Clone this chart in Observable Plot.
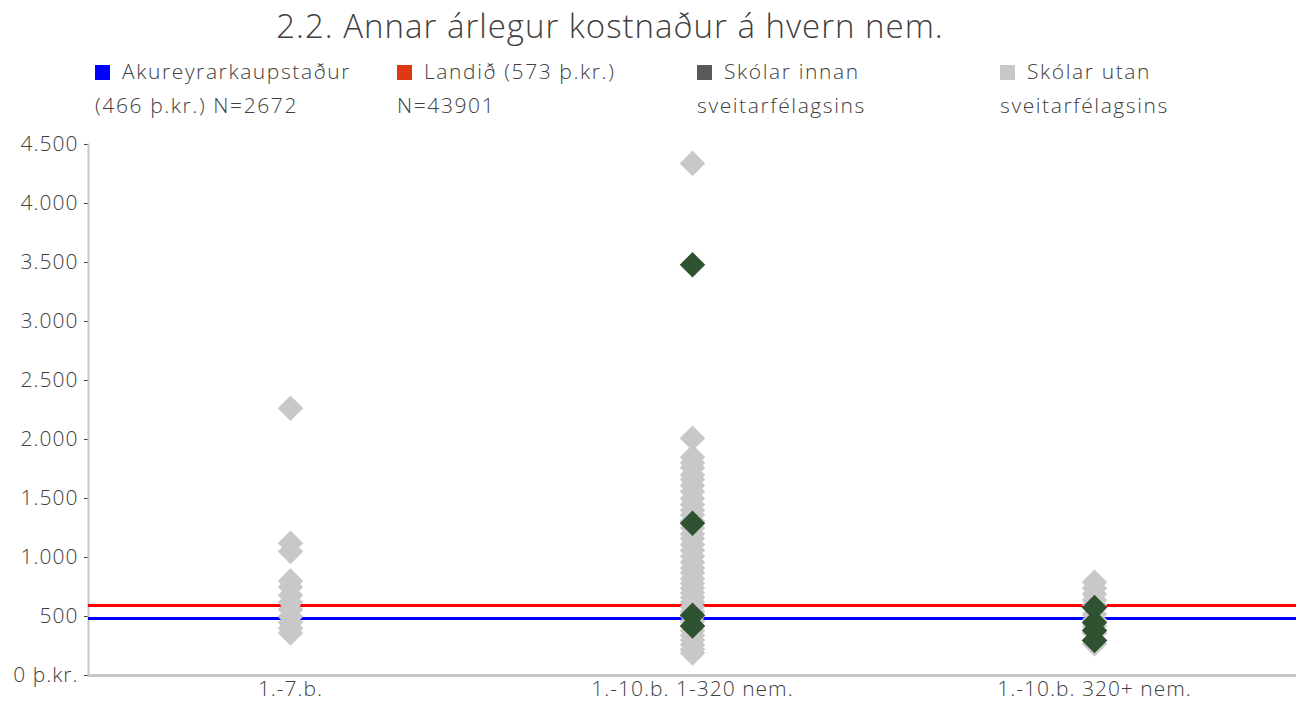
<!DOCTYPE html>
<html>
<head>
<meta charset="utf-8">
<script src="https://cdn.jsdelivr.net/npm/d3@7"></script>
<script src="https://cdn.jsdelivr.net/npm/@observablehq/plot@0.6"></script>
<style>
  body { margin: 0; background: #fff; font-family: "Open Sans", Lato, sans-serif; color: #404040; }
  #wrap { width: 1314px; height: 709px; position: relative; overflow: hidden; }
  #title { position: absolute; left: 0; width: 1220px; top: 3px; text-align: center; font-size: 33px; font-weight: 300; letter-spacing: 1px; }
  .leg { position: absolute; top: 54px; font-size: 21px; font-weight: 300; line-height: 34px; letter-spacing: 1.6px; white-space: nowrap; }
  .sw { display: inline-block; width: 15px; height: 15px; margin-right: 12px; vertical-align: -1px; }
  #chart { position: absolute; left: 0; top: 130px; }
  #chart text { letter-spacing: 1px; }
</style>
</head>
<body>
<div id="wrap">
  <div id="title">2.2. Annar árlegur kostnaður á hvern nem.</div>
  <div id="legend"></div>
  <div id="chart"></div>
</div>
<script>
// Categories (x axis)
const categories = ["1.-7.b.", "1.-10.b. 1-320 nem.", "1.-10.b. 320+ nem."];

// Schools outside the municipality (light grey), per category
const utan1 = [2265, 1120, 1050, 800, 750, 680, 620, 560, 500, 450, 400, 360];
const utan2 = [4340, 2010, 1850, 1800, 1760, 1700, 1660, 1610, 1560, 1500, 1450, 1400, 1360, 1310, 1250, 1200, 1160, 1110, 1060, 1010, 960, 910, 870, 820, 780, 740, 700, 660, 620, 580, 540, 500, 460, 420, 380, 340, 300, 260, 220, 190];
const utan3 = [790, 740, 690, 640, 600, 520, 470, 420, 360, 300, 270];

// Schools inside the municipality (dark green), per category
const innan1 = [];
const innan2 = [3480, 1290, 510, 420];
const innan3 = [576, 449, 381, 297];

// Reference lines
const akureyriValue = 483;
const landidValue = 593;

// Legend entries
const legendLabels = [
  ["Akureyrarkaupstaður", "(466 þ.kr.) N=2672"],
  ["Landið (573 þ.kr.)", "N=43901"],
  ["Skólar innan", "sveitarfélagsins"],
  ["Skólar utan", "sveitarfélagsins"]
];
const legendColors = ["#0000ff", "#dc3912", "#595959", "#c8c8c8"];
const legendX = [95, 397, 697, 1000];

// Y ticks
const yTicks = [0, 500, 1000, 1500, 2000, 2500, 3000, 3500, 4000, 4500];

const utan = [utan1, utan2, utan3].flatMap((arr, i) => arr.map(v => ({cat: categories[i], v})));
const innan = [innan1, innan2, innan3].flatMap((arr, i) => arr.map(v => ({cat: categories[i], v})));

const leg = document.getElementById("legend");
legendLabels.forEach((lab, i) => {
  const d = document.createElement("div");
  d.className = "leg";
  d.style.left = legendX[i] + "px";
  d.innerHTML = `<span class="sw" style="background:${legendColors[i]}"></span>${lab[0]}<br>${lab[1]}`;
  leg.appendChild(d);
});

const loc = d3.formatLocale({decimal: ",", thousands: ".", grouping: [3], currency: ["", ""]});
const fmt = loc.format(",");

const plot = Plot.plot({
  width: 1314,
  height: 579,
  marginLeft: 88,
  marginRight: 18,
  marginTop: 14,
  marginBottom: 34,
  style: {fontFamily: "'Open Sans', Lato, sans-serif", fontSize: "21px", fontWeight: 300, color: "#404040", background: "transparent"},
  x: {type: "band", domain: categories, padding: 0, label: null},
  y: {domain: [0, 4500], label: null},
  marks: [
    Plot.axisX({tickSize: 0, tickPadding: 6, label: null, fontSize: 21, fill: "#404040"}),
    Plot.axisY({ticks: yTicks, tickSize: 4, tickPadding: 6, tickFormat: d => d === 0 ? "0 þ.kr." : fmt(d), label: null, fontSize: 21, fill: "#404040", stroke: "#404040"}),
    Plot.ruleY([0], {stroke: "#c8c8c8", strokeWidth: 3}),
    Plot.frame({anchor: "left", stroke: "#c8c8c8", strokeWidth: 2}),
    Plot.ruleY([landidValue], {stroke: "#ff0000", strokeWidth: 3}),
    Plot.ruleY([akureyriValue], {stroke: "#0000ff", strokeWidth: 3}),
    Plot.dot(utan, {x: "cat", y: "v", symbol: "diamond2", r: 11.5, fill: "#c8c8c8", stroke: "none"}),
    Plot.dot(innan, {x: "cat", y: "v", symbol: "diamond2", r: 11.5, fill: "#2f5330", stroke: "none"})
  ]
});
document.getElementById("chart").appendChild(plot);
</script>
</body>
</html>
